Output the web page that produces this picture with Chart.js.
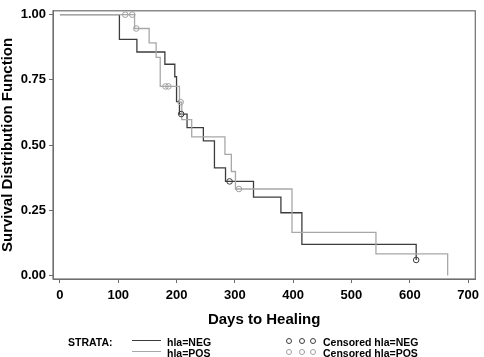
<!DOCTYPE html>
<html>
<head>
<meta charset="utf-8">
<script src="https://cdn.jsdelivr.net/npm/chart.js@4/dist/chart.umd.min.js"></script>
<style>
  body { margin: 0; background: #fff; }
  #wrap { position: relative; width: 484px; height: 357px; font-family: "Liberation Sans", Arial, sans-serif; font-weight: bold; font-size: 10.5px; color: #000; }
  #wrap canvas { position: absolute; left: 0; top: 0; }
  .lg { position: absolute; line-height: 12px; white-space: nowrap; }
  .ln { position: absolute; width: 29px; height: 0; border-top: 1.3px solid; }
  .ci { position: absolute; width: 4px; height: 4px; border: 1px solid; border-radius: 50%; }
</style>
</head>
<body>
<div id="wrap">
  <canvas id="km" width="484" height="357"></canvas>
  <div class="lg" style="left:68px;top:336px">STRATA:</div>
  <div class="ln" style="left:132px;top:340px;border-color:#3c3c3c"></div>
  <div class="lg" style="left:167px;top:336px">hla=NEG</div>
  <div class="ln" style="left:132px;top:351px;border-color:#a8a8a8"></div>
  <div class="lg" style="left:167px;top:347px">hla=POS</div>
  <div class="ci" style="left:286px;top:338px;border-color:#3c3c3c"></div>
  <div class="ci" style="left:299px;top:338px;border-color:#3c3c3c"></div>
  <div class="ci" style="left:310px;top:338px;border-color:#3c3c3c"></div>
  <div class="lg" style="left:323px;top:336px">Censored hla=NEG</div>
  <div class="ci" style="left:286px;top:349px;border-color:#a0a0a0"></div>
  <div class="ci" style="left:299px;top:349px;border-color:#a0a0a0"></div>
  <div class="ci" style="left:310px;top:349px;border-color:#a0a0a0"></div>
  <div class="lg" style="left:323px;top:347px">Censored hla=POS</div>
</div>
<script>
// survival curves
var negDays = [0, 102, 132, 180, 197, 200, 205, 218, 246, 265, 284, 332, 379, 415, 611];
var negSurv = [1, 0.905, 0.857, 0.810, 0.762, 0.667, 0.619, 0.567, 0.516, 0.413, 0.361, 0.301, 0.241, 0.120, 0.060];
var negCensDays = [208, 291, 611];
var negCensSurv = [0.619, 0.361, 0.060];

var posDays = [0, 128, 153, 165, 172, 205, 209, 226, 283, 294, 301, 398, 542, 665];
var posSurv = [1, 0.947, 0.892, 0.836, 0.725, 0.665, 0.598, 0.532, 0.465, 0.399, 0.332, 0.166, 0.083, 0];
var posCensDays = [112, 124, 131, 181, 186, 207, 307];
var posCensSurv = [1, 1, 0.947, 0.725, 0.725, 0.665, 0.332];

var xTicks = [0, 100, 200, 300, 400, 500, 600, 700];
var yTicks = [0, 0.25, 0.5, 0.75, 1];

function pts(xs, ys) {
  return xs.map(function(x, i) { return { x: x, y: ys[i] }; });
}

var frameColor = '#6e6e6e';

var framePlugin = {
  id: 'frame',
  beforeDatasetsDraw: function(chart) {
    var a = chart.chartArea, ctx = chart.ctx;
    ctx.save();
    ctx.strokeStyle = frameColor;
    ctx.lineWidth = 1.2;
    ctx.strokeRect(a.left, a.top, a.right - a.left, a.bottom - a.top);
    ctx.restore();
  }
};

Chart.defaults.font.family = '"Liberation Sans", Arial, sans-serif';
Chart.defaults.font.weight = 'bold';
Chart.defaults.color = '#000';

new Chart(document.getElementById('km'), {
  type: 'line',
  data: {
    datasets: [{
      label: 'hla=POS',
      data: pts(posDays, posSurv),
      borderColor: '#a8a8a8',
      borderWidth: 1.3,
      stepped: 'before',
      pointRadius: 0,
      fill: false,
      order: 2
    }, {
      label: 'hla=NEG',
      data: pts(negDays, negSurv),
      borderColor: '#3c3c3c',
      borderWidth: 1.3,
      stepped: 'before',
      pointRadius: 0,
      fill: false,
      order: 3
    }, {
      label: 'Censored hla=POS',
      data: pts(posCensDays, posCensSurv),
      showLine: false,
      pointStyle: 'circle',
      pointRadius: 2.8,
      pointBorderWidth: 1,
      pointBorderColor: '#a0a0a0',
      pointBackgroundColor: 'rgba(0,0,0,0)',
      order: 0
    }, {
      label: 'Censored hla=NEG',
      data: pts(negCensDays, negCensSurv),
      showLine: false,
      pointStyle: 'circle',
      pointRadius: 2.8,
      pointBorderWidth: 1,
      pointBorderColor: '#3c3c3c',
      pointBackgroundColor: 'rgba(0,0,0,0)',
      order: 1
    }]
  },
  options: {
    responsive: false,
    animation: false,
    layout: { padding: { top: 1, right: 5, bottom: 30, left: 0 } },
    plugins: { legend: { display: false }, tooltip: { enabled: false } },
    scales: {
      x: {
        type: 'linear',
        min: -11.9,
        max: 712.4,
        afterBuildTicks: function(s) { s.ticks = xTicks.map(function(v) { return { value: v }; }); },
        afterFit: function(s) { s.height = 48; },
        ticks: { font: { size: 13, weight: 'bold' }, padding: 5, maxRotation: 0 },
        grid: { drawOnChartArea: false, tickLength: 4, color: frameColor },
        border: { display: true, color: frameColor },
        title: { display: true, text: 'Days to Healing', font: { size: 15, weight: 'bold', lineHeight: 1 }, padding: { top: 0, bottom: 0 } }
      },
      y: {
        type: 'linear',
        min: -0.01294,
        max: 1.01479,
        afterBuildTicks: function(s) { s.ticks = yTicks.map(function(v) { return { value: v }; }); },
        afterFit: function(s) { s.width = 53; },
        ticks: { font: { size: 13, weight: 'bold' }, padding: 3, callback: function(v) { return v.toFixed(2); } },
        grid: { drawOnChartArea: false, tickLength: 4, color: frameColor },
        border: { display: true, color: frameColor },
        title: { display: true, text: 'Survival Distribution Function', font: { size: 15, weight: 'bold', lineHeight: 1 }, padding: { top: 0, bottom: 0 } }
      }
    }
  },
  plugins: [framePlugin]
});
</script>
</body>
</html>
